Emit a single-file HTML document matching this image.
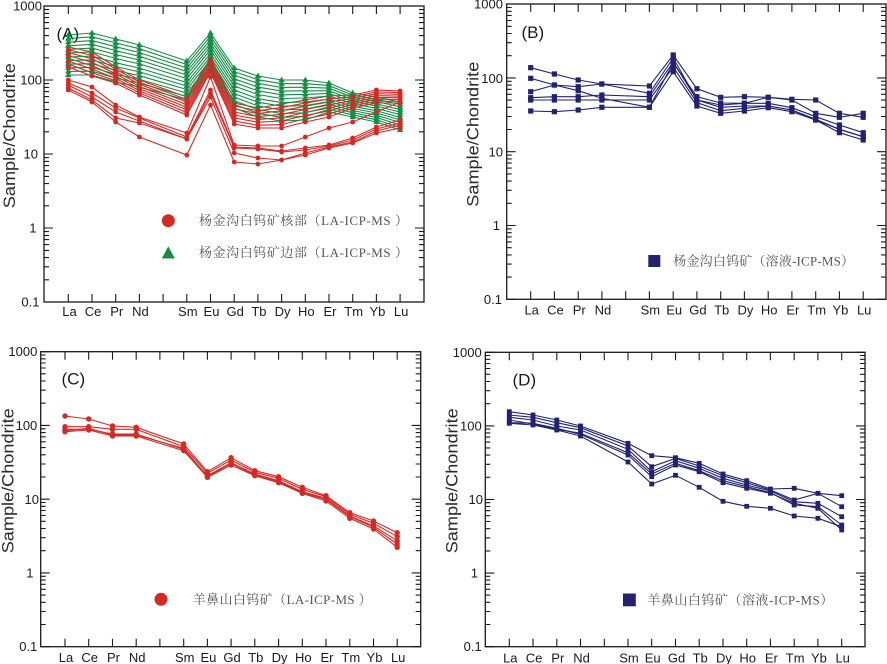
<!DOCTYPE html>
<html><head><meta charset="utf-8"><style>
html,body{margin:0;padding:0;background:#fff;}
svg{display:block;}
.ax{fill:none;stroke:#1a1a1a;stroke-width:1.3}
.tk{fill:none;stroke:#1a1a1a;stroke-width:1.1}
.tl{font-family:"Liberation Sans",Arial,sans-serif;font-size:13px;fill:#1a1a1a;text-anchor:end}
.xl{font-family:"Liberation Sans",Arial,sans-serif;font-size:13px;fill:#1a1a1a;text-anchor:middle}
.yt{font-family:"Liberation Sans",Arial,sans-serif;font-size:16.3px;fill:#2a2a2a;text-anchor:middle}
.pl{font-family:"Liberation Sans",Arial,sans-serif;font-size:17px;fill:#1a1a1a}
.lg{font-family:"Liberation Serif","Noto Serif CJK SC","Noto Sans CJK SC",serif;font-size:13px;fill:#555}
.rd{fill:none;stroke:#d42a26;stroke-width:1.1;marker-start:url(#mc);marker-mid:url(#mc);marker-end:url(#mc)}
.gr{fill:none;stroke:#168c46;stroke-width:1.1;marker-start:url(#mt);marker-mid:url(#mt);marker-end:url(#mt)}
.nb{fill:none;stroke:#22226e;stroke-width:1.1;marker-start:url(#ms);marker-mid:url(#ms);marker-end:url(#ms)}
.rc{fill:none;stroke:#d42a26;stroke-width:1.1;marker-start:url(#mc2);marker-mid:url(#mc2);marker-end:url(#mc2)}
.nd{fill:none;stroke:#22226e;stroke-width:1.1;marker-start:url(#ms2);marker-mid:url(#ms2);marker-end:url(#ms2)}
</style></head><body>
<svg width="887" height="664" viewBox="0 0 887 664" xmlns="http://www.w3.org/2000/svg">
<defs>
<path id="dec" d="M0 0h9M0 -22.2h5M0 -35.2h5M0 -44.4h5M0 -51.6h5M0 -57.4h5M0 -62.4h5M0 -66.6h5M0 -70.4h5" stroke="#1a1a1a" stroke-width="1.1" fill="none"/>
<marker id="mc" markerUnits="userSpaceOnUse" markerWidth="8" markerHeight="8" refX="4" refY="4" overflow="visible"><circle cx="4" cy="4" r="2.4" fill="#d42a26"/></marker>
<marker id="mc2" markerUnits="userSpaceOnUse" markerWidth="8" markerHeight="8" refX="4" refY="4" overflow="visible"><circle cx="4" cy="4" r="2.7" fill="#d42a26"/></marker>
<marker id="mt" markerUnits="userSpaceOnUse" markerWidth="8" markerHeight="8" refX="4" refY="4" overflow="visible"><path d="M4 0.6L7.2 6.1L0.8 6.1Z" fill="#168c46"/></marker>
<marker id="ms" markerUnits="userSpaceOnUse" markerWidth="8" markerHeight="8" refX="4" refY="4" overflow="visible"><rect x="1.4" y="1.4" width="5.2" height="5.2" fill="#22226e"/></marker>
<marker id="ms2" markerUnits="userSpaceOnUse" markerWidth="8" markerHeight="8" refX="4" refY="4" overflow="visible"><rect x="1.6" y="1.6" width="4.8" height="4.8" fill="#22226e"/></marker>
</defs>
<rect width="887" height="664" fill="#fff"/>

<!-- ============ PANEL A ============ -->
<rect class="ax" x="44" y="6" width="380" height="296"/>
<path class="tk" d="M68.3 6v8M92 6v8M115.7 6v8M139.4 6v8M163.1 6v8M186.8 6v8M210.5 6v8M234.2 6v8M257.9 6v8M281.6 6v8M305.3 6v8M329 6v8M352.7 6v8M376.4 6v8M400.1 6v8
M68.3 302v-8M92 302v-8M115.7 302v-8M139.4 302v-8M163.1 302v-8M186.8 302v-8M210.5 302v-8M234.2 302v-8M257.9 302v-8M281.6 302v-8M305.3 302v-8M329 302v-8M352.7 302v-8M376.4 302v-8M400.1 302v-8
M44 6h9M424 6h-9"/>
<use href="#dec" x="44" y="302"/><use href="#dec" x="44" y="228"/><use href="#dec" x="44" y="154"/><use href="#dec" x="44" y="80"/>
<use href="#dec" transform="translate(424,302) scale(-1,1)"/><use href="#dec" transform="translate(424,228) scale(-1,1)"/><use href="#dec" transform="translate(424,154) scale(-1,1)"/><use href="#dec" transform="translate(424,80) scale(-1,1)"/>
<text class="tl" x="42" y="10.5">1000</text>
<text class="tl" x="42" y="84.5">100</text>
<text class="tl" x="38" y="158.5">10</text>
<text class="tl" x="36.5" y="232.5">1</text>
<text class="tl" x="39.5" y="306.5">0.1</text>
<g class="xl">
<text x="69.5" y="316">La</text><text x="93" y="316">Ce</text><text x="116.7" y="316">Pr</text><text x="140.4" y="316">Nd</text>
<text x="187.8" y="316">Sm</text><text x="211.5" y="316">Eu</text><text x="235.2" y="316">Gd</text><text x="258.9" y="316">Tb</text>
<text x="282.6" y="316">Dy</text><text x="306.3" y="316">Ho</text><text x="330" y="316">Er</text><text x="353.7" y="316">Tm</text>
<text x="377.4" y="316">Yb</text><text x="401.1" y="316">Lu</text>
</g>
<text class="yt" transform="translate(15,135.7) rotate(-90)" textLength="145" lengthAdjust="spacingAndGlyphs">Sample/Chondrite</text>
<text class="pl" x="56.5" y="39.5">(A)</text>

<g>
<polyline class="rd" points="68.3,47 92,52 115.7,67 139.4,80 186.8,97 210.5,58 234.2,103 257.9,108 281.6,104 305.3,100 329,96 352.7,95 376.4,90 400.1,91"/>
<polyline class="rd" points="68.3,52.6 92,58.7 115.7,71.5 139.4,84.2 186.8,102 210.5,61.9 234.2,108.9 257.9,113.6 281.6,110.7 305.3,106.2 329,101.9 352.7,98.6 376.4,93.6 400.1,94.4"/>
<polyline class="rd" points="68.3,58.4 92,65.7 115.7,76.1 139.4,88.6 186.8,107.3 210.5,66 234.2,115 257.9,119.4 281.6,117.7 305.3,112.5 329,108 352.7,102.4 376.4,97.4 400.1,97.8"/>
<polyline class="rd" points="68.3,64.2 92,72.6 115.7,80.8 139.4,92.9 186.8,112.5 210.5,70 234.2,121 257.9,125.2 281.6,124.6 305.3,118.9 329,114.1 352.7,106.2 376.4,101.2 400.1,101.3"/>
</g>
<g>
<polyline class="gr" points="68.3,35 92,33 115.7,39 139.4,45 186.8,61 210.5,33 234.2,68 257.9,76 281.6,80 305.3,80 329,83 352.7,93 376.4,97 400.1,102"/>
<polyline class="gr" points="68.3,38.6 92,36.8 115.7,42.9 139.4,48.8 186.8,64.5 210.5,36.3 234.2,71.6 257.9,79.7 281.6,83.7 305.3,83.6 329,85.6 352.7,95.2 376.4,99.3 400.1,104.5"/>
<polyline class="gr" points="68.3,42.2 92,40.6 115.7,46.7 139.4,52.6 186.8,68 210.5,39.7 234.2,75.2 257.9,83.4 281.6,87.4 305.3,87.2 329,88.2 352.7,97.3 376.4,101.5 400.1,107"/>
<polyline class="gr" points="68.3,45.8 92,44.3 115.7,50.6 139.4,56.3 186.8,71.5 210.5,43 234.2,78.8 257.9,87.1 281.6,91.1 305.3,90.8 329,90.8 352.7,99.5 376.4,103.8 400.1,109.6"/>
<polyline class="gr" points="68.3,49.4 92,48.1 115.7,54.5 139.4,60.1 186.8,75 210.5,46.3 234.2,82.4 257.9,90.8 281.6,94.8 305.3,94.4 329,93.4 352.7,101.6 376.4,106 400.1,112.1"/>
<polyline class="gr" points="68.3,53 92,51.9 115.7,58.4 139.4,63.9 186.8,78.6 210.5,49.7 234.2,86 257.9,94.5 281.6,98.5 305.3,98 329,96 352.7,103.8 376.4,108.3 400.1,114.6"/>
<polyline class="gr" points="68.3,57 92,56.1 115.7,62.7 139.4,68.1 186.8,82.5 210.5,53.4 234.2,90 257.9,98.6 281.6,102.6 305.3,102 329,99 352.7,106.2 376.4,110.8 400.1,117.4"/>
<polyline class="gr" points="68.3,60.6 92,59.9 115.7,66.5 139.4,71.9 186.8,86 210.5,56.7 234.2,93.6 257.9,102.2 281.6,106.2 305.3,105.6 329,101.6 352.7,108.4 376.4,113 400.1,119.9"/>
<polyline class="gr" points="68.3,64.2 92,63.7 115.7,70.4 139.4,75.7 186.8,89.5 210.5,60 234.2,97.2 257.9,105.9 281.6,109.9 305.3,109.2 329,104.2 352.7,110.5 376.4,115.3 400.1,122.4"/>
<polyline class="gr" points="68.3,67.8 92,67.4 115.7,74.3 139.4,79.4 186.8,93 210.5,63.3 234.2,100.8 257.9,109.6 281.6,113.6 305.3,112.8 329,106.8 352.7,112.7 376.4,117.5 400.1,125"/>
<polyline class="gr" points="68.3,71.4 92,71.2 115.7,78.1 139.4,83.2 186.8,96.5 210.5,66.7 234.2,104.4 257.9,113.3 281.6,117.3 305.3,116.4 329,109.4 352.7,114.8 376.4,119.8 400.1,127.5"/>
<polyline class="gr" points="68.3,75 92,75 115.7,82 139.4,87 186.8,100 210.5,70 234.2,108 257.9,117 281.6,121 305.3,120 329,112 352.7,117 376.4,122 400.1,130"/>
</g>
<g>
<polyline class="rd" points="68.3,49.8 92,55.4 115.7,69.2 139.4,82.1 186.8,99.5 210.5,60 234.2,105.9 257.9,110.8 281.6,107.4 305.3,103.1 329,98.9 352.7,96.8 376.4,91.8 400.1,92.7"/>
<polyline class="rd" points="68.3,55.6 92,62.3 115.7,73.9 139.4,86.5 186.8,104.7 210.5,64 234.2,112 257.9,116.6 281.6,114.3 305.3,109.5 329,105 352.7,100.6 376.4,95.6 400.1,96.2"/>
<polyline class="rd" points="68.3,61.2 92,69 115.7,78.4 139.4,90.7 186.8,109.8 210.5,67.9 234.2,117.9 257.9,122.2 281.6,121 305.3,115.6 329,110.9 352.7,104.2 376.4,99.2 400.1,99.5"/>
<polyline class="rd" points="68.3,67 92,76 115.7,83 139.4,95 186.8,115 210.5,72 234.2,124 257.9,128 281.6,128 305.3,122 329,117 352.7,108 376.4,103 400.1,103"/>
</g>
<g>
<polyline class="rd" points="68.3,80 92,87 115.7,105 139.4,117 186.8,133 210.5,77 234.2,145 257.9,146 281.6,146 305.3,137 329,128 352.7,122 376.4,112 400.1,102"/>
<polyline class="rd" points="68.3,83 92,93 115.7,108 139.4,118 186.8,137 210.5,90 234.2,147 257.9,148 281.6,151 305.3,148 329,145 352.7,138 376.4,127 400.1,120"/>
<polyline class="rd" points="68.3,85 92,97 115.7,112 139.4,121 186.8,139 210.5,93 234.2,148 257.9,149 281.6,152 305.3,150 329,146 352.7,140 376.4,129 400.1,123"/>
<polyline class="rd" points="68.3,88 92,100 115.7,118 139.4,123 186.8,139 210.5,97 234.2,153 257.9,158 281.6,160 305.3,153 329,147 352.7,142 376.4,131 400.1,125"/>
<polyline class="rd" points="68.3,90 92,102 115.7,122 139.4,137 186.8,155 210.5,105 234.2,162 257.9,164 281.6,160 305.3,155 329,148 352.7,143 376.4,133 400.1,128"/>
</g>
<circle cx="168.3" cy="220.7" r="6.5" fill="#d42a26"/>
<path d="M168.3 246.2L174.8 258.5L161.8 258.5Z" fill="#168c46"/>
<text class="lg" x="199" y="225.2" textLength="209" lengthAdjust="spacing">杨金沟白钨矿核部（LA-ICP-MS ）</text>
<text class="lg" x="199" y="257.2" textLength="209" lengthAdjust="spacing">杨金沟白钨矿边部（LA-ICP-MS ）</text>

<!-- ============ PANEL B ============ -->
<rect class="ax" x="506.7" y="4" width="379.3" height="295.3"/>
<path class="tk" d="M530.7 4v8M554.4 4v8M578.2 4v8M601.9 4v8M625.7 4v8M649.4 4v8M673.2 4v8M696.9 4v8M720.7 4v8M744.4 4v8M768.2 4v8M791.9 4v8M815.7 4v8M839.4 4v8M863.2 4v8
M530.7 299.3v-8M554.4 299.3v-8M578.2 299.3v-8M601.9 299.3v-8M625.7 299.3v-8M649.4 299.3v-8M673.2 299.3v-8M696.9 299.3v-8M720.7 299.3v-8M744.4 299.3v-8M768.2 299.3v-8M791.9 299.3v-8M815.7 299.3v-8M839.4 299.3v-8M863.2 299.3v-8
M506.7 4h9M886 4h-9"/>
<use href="#dec" x="506.7" y="299.3"/><use href="#dec" x="506.7" y="225.5"/><use href="#dec" x="506.7" y="151.7"/><use href="#dec" x="506.7" y="77.9"/>
<use href="#dec" transform="translate(886,299.3) scale(-1,1)"/><use href="#dec" transform="translate(886,225.5) scale(-1,1)"/><use href="#dec" transform="translate(886,151.7) scale(-1,1)"/><use href="#dec" transform="translate(886,77.9) scale(-1,1)"/>
<text class="tl" x="503" y="8.5">1000</text>
<text class="tl" x="503" y="82.8">100</text>
<text class="tl" x="503" y="156.5">10</text>
<text class="tl" x="500" y="230.2">1</text>
<text class="tl" x="502" y="303.8">0.1</text>
<g class="xl">
<text x="531.7" y="314.5">La</text><text x="555.4" y="314.5">Ce</text><text x="579.2" y="314.5">Pr</text><text x="602.9" y="314.5">Nd</text>
<text x="650.4" y="314.5">Sm</text><text x="674.2" y="314.5">Eu</text><text x="697.9" y="314.5">Gd</text><text x="721.7" y="314.5">Tb</text>
<text x="745.4" y="314.5">Dy</text><text x="769.2" y="314.5">Ho</text><text x="792.9" y="314.5">Er</text><text x="816.7" y="314.5">Tm</text>
<text x="840.4" y="314.5">Yb</text><text x="864.2" y="314.5">Lu</text>
</g>
<text class="yt" transform="translate(478.3,134.2) rotate(-90)" textLength="145" lengthAdjust="spacingAndGlyphs">Sample/Chondrite</text>
<text class="pl" x="521.5" y="37.8">(B)</text>
<polyline class="nb" points="530.7,67.7 554.4,74 578.2,80 601.9,84 649.4,86 673.2,55 696.9,88.7 720.7,97.3 744.4,96.7 768.2,97.3 791.9,99.3 815.7,100 839.4,113.3 863.2,117.3"/>
<polyline class="nb" points="530.7,78.3 554.4,85 578.2,90.7 601.9,98.3 649.4,107.3 673.2,63 696.9,96.7 720.7,103 744.4,103.3 768.2,97.3 791.9,100 815.7,113.3 839.4,117.3 863.2,113.3"/>
<polyline class="nb" points="530.7,91.7 554.4,85 578.2,86.7 601.9,84 649.4,93.3 673.2,58 696.9,100 720.7,105 744.4,103.3 768.2,103.3 791.9,107.7 815.7,116.7 839.4,125 863.2,132.7"/>
<polyline class="nb" points="530.7,97.7 554.4,96.7 578.2,96.7 601.9,95 649.4,96.7 673.2,62 696.9,100 720.7,107.3 744.4,106 768.2,106 791.9,110 815.7,119.3 839.4,129.3 863.2,136.7"/>
<polyline class="nb" points="530.7,100 554.4,100 578.2,100 601.9,100 649.4,100 673.2,67 696.9,102.7 720.7,110.7 744.4,108.3 768.2,106 791.9,110 815.7,120 839.4,129.3 863.2,136.7"/>
<polyline class="nb" points="530.7,111 554.4,111.7 578.2,110 601.9,107.3 649.4,107.3 673.2,71.7 696.9,106 720.7,113.3 744.4,111 768.2,107.7 791.9,111.7 815.7,120 839.4,132.7 863.2,140"/>
<rect x="648.3" y="255" width="12" height="12" fill="#22226e"/>
<text class="lg" x="673.3" y="265.5" textLength="180.7" lengthAdjust="spacing">杨金沟白钨矿（溶液-ICP-MS）</text>

<!-- ============ PANEL C ============ -->
<rect class="ax" x="40.7" y="351.7" width="380" height="295"/>
<path class="tk" d="M65 351.7v8M88.7 351.7v8M112.5 351.7v8M136.2 351.7v8M159.9 351.7v8M183.7 351.7v8M207.4 351.7v8M231.1 351.7v8M254.8 351.7v8M278.6 351.7v8M302.3 351.7v8M326 351.7v8M349.8 351.7v8M373.5 351.7v8M397.2 351.7v8
M65 646.7v-8M88.7 646.7v-8M112.5 646.7v-8M136.2 646.7v-8M159.9 646.7v-8M183.7 646.7v-8M207.4 646.7v-8M231.1 646.7v-8M254.8 646.7v-8M278.6 646.7v-8M302.3 646.7v-8M326 646.7v-8M349.8 646.7v-8M373.5 646.7v-8M397.2 646.7v-8
M40.7 351.7h9M420.7 351.7h-9"/>
<use href="#dec" x="40.7" y="646.7"/><use href="#dec" x="40.7" y="572.9"/><use href="#dec" x="40.7" y="499.2"/><use href="#dec" x="40.7" y="425.4"/>
<use href="#dec" transform="translate(420.7,646.7) scale(-1,1)"/><use href="#dec" transform="translate(420.7,572.9) scale(-1,1)"/><use href="#dec" transform="translate(420.7,499.2) scale(-1,1)"/><use href="#dec" transform="translate(420.7,425.4) scale(-1,1)"/>
<text class="tl" x="37.3" y="356.2">1000</text>
<text class="tl" x="37.3" y="430.2">100</text>
<text class="tl" x="39" y="503.8">10</text>
<text class="tl" x="33.5" y="577.5">1</text>
<text class="tl" x="37.3" y="651.2">0.1</text>
<g class="xl">
<text x="66" y="662">La</text><text x="89.7" y="662">Ce</text><text x="113.5" y="662">Pr</text><text x="137.2" y="662">Nd</text>
<text x="184.7" y="662">Sm</text><text x="208.4" y="662">Eu</text><text x="232.1" y="662">Gd</text><text x="255.8" y="662">Tb</text>
<text x="279.6" y="662">Dy</text><text x="303.3" y="662">Ho</text><text x="327" y="662">Er</text><text x="350.8" y="662">Tm</text>
<text x="374.5" y="662">Yb</text><text x="398.2" y="662">Lu</text>
</g>
<text class="yt" transform="translate(13.3,480.8) rotate(-90)" textLength="145" lengthAdjust="spacingAndGlyphs">Sample/Chondrite</text>
<text class="pl" x="61.5" y="384.5">(C)</text>
<polyline class="rc" points="65,416 88.7,419 112.5,426 136.2,427.3 183.7,444 207.4,471.7 231.1,457.7 254.8,470.7 278.6,476.7 302.3,487.3 326,495.7 349.8,512.7 373.5,521 397.2,532.7"/>
<polyline class="rc" points="65,426.7 88.7,426.7 112.5,429.3 136.2,429.3 183.7,446.7 207.4,473.3 231.1,460 254.8,472.3 278.6,478.3 302.3,489.3 326,496.7 349.8,514.3 373.5,523.3 397.2,536.7"/>
<polyline class="rc" points="65,429.3 88.7,429.3 112.5,434 136.2,434 183.7,449.3 207.4,475.7 231.1,462.7 254.8,474 278.6,480.7 302.3,491.7 326,498.3 349.8,516 373.5,526 397.2,540.7"/>
<polyline class="rc" points="65,431.7 88.7,430 112.5,436 136.2,436 183.7,450.7 207.4,477.3 231.1,465 254.8,475.7 278.6,482.7 302.3,493.3 326,501 349.8,518.3 373.5,529 397.2,547.3"/>
<polyline class="rc" points="65,430.7 88.7,428.3 112.5,435 136.2,435 183.7,448.3 207.4,476.7 231.1,463.3 254.8,475 278.6,481.7 302.3,492.7 326,499.3 349.8,516.7 373.5,527.3 397.2,544"/>
<circle cx="161" cy="599.3" r="6.5" fill="#d42a26"/>
<text class="lg" x="192.7" y="603.8" textLength="179" lengthAdjust="spacing">羊鼻山白钨矿（LA-ICP-MS ）</text>

<!-- ============ PANEL D ============ -->
<rect class="ax" x="485.3" y="352.3" width="379.7" height="294.4"/>
<path class="tk" d="M509.3 352.3v8M533 352.3v8M556.8 352.3v8M580.5 352.3v8M604.3 352.3v8M628 352.3v8M651.7 352.3v8M675.5 352.3v8M699.2 352.3v8M723 352.3v8M746.7 352.3v8M770.4 352.3v8M794.2 352.3v8M817.9 352.3v8M841.7 352.3v8
M509.3 646.7v-8M533 646.7v-8M556.8 646.7v-8M580.5 646.7v-8M604.3 646.7v-8M628 646.7v-8M651.7 646.7v-8M675.5 646.7v-8M699.2 646.7v-8M723 646.7v-8M746.7 646.7v-8M770.4 646.7v-8M794.2 646.7v-8M817.9 646.7v-8M841.7 646.7v-8
M485.3 352.3h9M865 352.3h-9"/>
<use href="#dec" x="485.3" y="646.7"/><use href="#dec" x="485.3" y="573.1"/><use href="#dec" x="485.3" y="499.5"/><use href="#dec" x="485.3" y="425.9"/>
<use href="#dec" transform="translate(865,646.7) scale(-1,1)"/><use href="#dec" transform="translate(865,573.1) scale(-1,1)"/><use href="#dec" transform="translate(865,499.5) scale(-1,1)"/><use href="#dec" transform="translate(865,425.9) scale(-1,1)"/>
<text class="tl" x="481.7" y="356.8">1000</text>
<text class="tl" x="481.7" y="430.5">100</text>
<text class="tl" x="483" y="504">10</text>
<text class="tl" x="478" y="577.7">1</text>
<text class="tl" x="481.7" y="651.2">0.1</text>
<g class="xl">
<text x="510.3" y="662.5">La</text><text x="534" y="662.5">Ce</text><text x="557.8" y="662.5">Pr</text><text x="581.5" y="662.5">Nd</text>
<text x="629" y="662.5">Sm</text><text x="652.7" y="662.5">Eu</text><text x="676.5" y="662.5">Gd</text><text x="700.2" y="662.5">Tb</text>
<text x="724" y="662.5">Dy</text><text x="747.7" y="662.5">Ho</text><text x="771.4" y="662.5">Er</text><text x="795.2" y="662.5">Tm</text>
<text x="818.9" y="662.5">Yb</text><text x="842.7" y="662.5">Lu</text>
</g>
<text class="yt" transform="translate(457.3,480.8) rotate(-90)" textLength="145" lengthAdjust="spacingAndGlyphs">Sample/Chondrite</text>
<text class="pl" x="512.5" y="385.5">(D)</text>
<polyline class="nd" points="509.3,411.7 533,415 556.8,420 580.5,426 628,443.3 651.7,455.7 675.5,457.7 699.2,463.3 723,474 746.7,480.7 770.4,489 794.2,488.3 817.9,493.3 841.7,495.7"/>
<polyline class="nd" points="509.3,415 533,417.3 556.8,422.7 580.5,427.7 628,446 651.7,466.7 675.5,458.3 699.2,466 723,475.7 746.7,482.7 770.4,490 794.2,500 817.9,493.3 841.7,506.7"/>
<polyline class="nd" points="509.3,417.3 533,420 556.8,426 580.5,430 628,449.3 651.7,471.7 675.5,460.7 699.2,468.3 723,478.3 746.7,485 770.4,491 794.2,501.7 817.9,503.3 841.7,516.7"/>
<polyline class="nd" points="509.3,420 533,424 556.8,429.3 580.5,433.3 628,452.7 651.7,474 675.5,463.3 699.2,470.7 723,480.7 746.7,486.7 770.4,492.7 794.2,505 817.9,506.7 841.7,525"/>
<polyline class="nd" points="509.3,423.3 533,425 556.8,430 580.5,436 628,462 651.7,484 675.5,475.3 699.2,487.3 723,501.3 746.7,506.3 770.4,508.3 794.2,516 817.9,518.3 841.7,526.7"/>
<polyline class="nd" points="509.3,422.7 533,423.3 556.8,428.3 580.5,434.3 628,455 651.7,476.7 675.5,465 699.2,471.7 723,482.7 746.7,488.3 770.4,493.3 794.2,503.3 817.9,508.3 841.7,530"/>
<rect x="623" y="593.5" width="12.8" height="12.8" fill="#22226e"/>
<text class="lg" x="647.3" y="604.5" textLength="186" lengthAdjust="spacing">羊鼻山白钨矿（溶液-ICP-MS）</text>
</svg>
</body></html>
